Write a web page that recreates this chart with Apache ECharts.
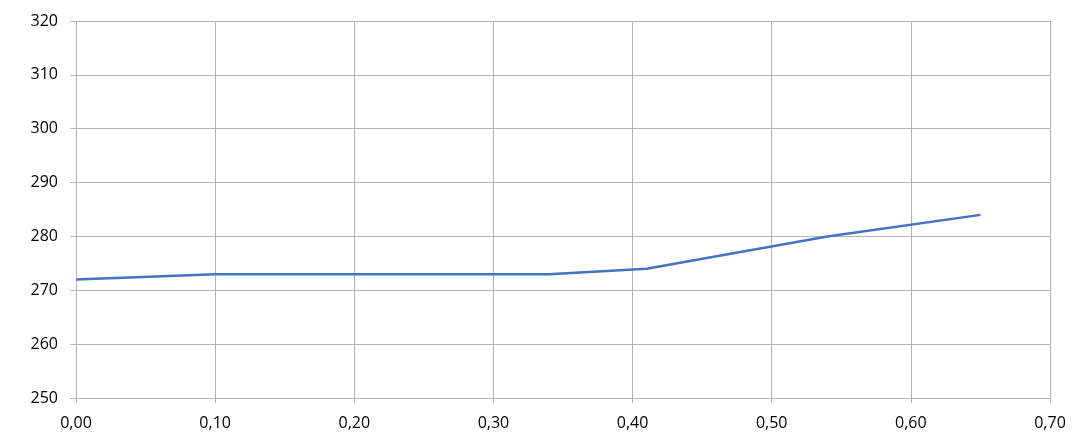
<!DOCTYPE html>
<html>
<head>
<meta charset="utf-8">
<script src="https://cdn.jsdelivr.net/npm/echarts@6/dist/echarts.min.js"></script>
<style>
html,body{margin:0;padding:0;background:#fff;}
#c{width:1078px;height:436px;}
</style>
</head>
<body>
<div id="c"></div>
<script>
const xValues = [0.00, 0.10, 0.34, 0.41, 0.54, 0.65];
const yValues = [272, 273, 273, 274, 280, 284];

const gridColor = '#b3b3b3';
const chart = echarts.init(document.getElementById('c'));
chart.setOption({
  animation: false,
  grid: {left: 76, right: 28, top: 21, bottom: 38, containLabel: false},
  xAxis: {
    type: 'value', min: 0, max: 0.7, interval: 0.1,
    axisLine: {show: true, lineStyle: {color: gridColor, width: 1}},
    axisTick: {show: true, length: 5, lineStyle: {color: gridColor}},
    splitLine: {show: true, lineStyle: {color: gridColor, width: 1}},
    axisLabel: {
      color: '#000', fontSize: 16, fontFamily: 'Open Sans', margin: 17,
      formatter: v => v.toFixed(2).replace('.', ',')
    }
  },
  yAxis: {
    type: 'value', min: 250, max: 320, interval: 10,
    axisLine: {show: false},
    axisTick: {show: true, length: 6, lineStyle: {color: gridColor}},
    splitLine: {show: true, lineStyle: {color: gridColor, width: 1}},
    axisLabel: {color: '#000', fontSize: 16, fontFamily: 'Open Sans', margin: 18}
  },
  series: [{
    type: 'line',
    data: xValues.map((x, i) => [x, yValues[i]]),
    showSymbol: false,
    lineStyle: {color: '#4472c4', width: 2.5},
    itemStyle: {color: '#4472c4'}
  }]
});
</script>
</body>
</html>
